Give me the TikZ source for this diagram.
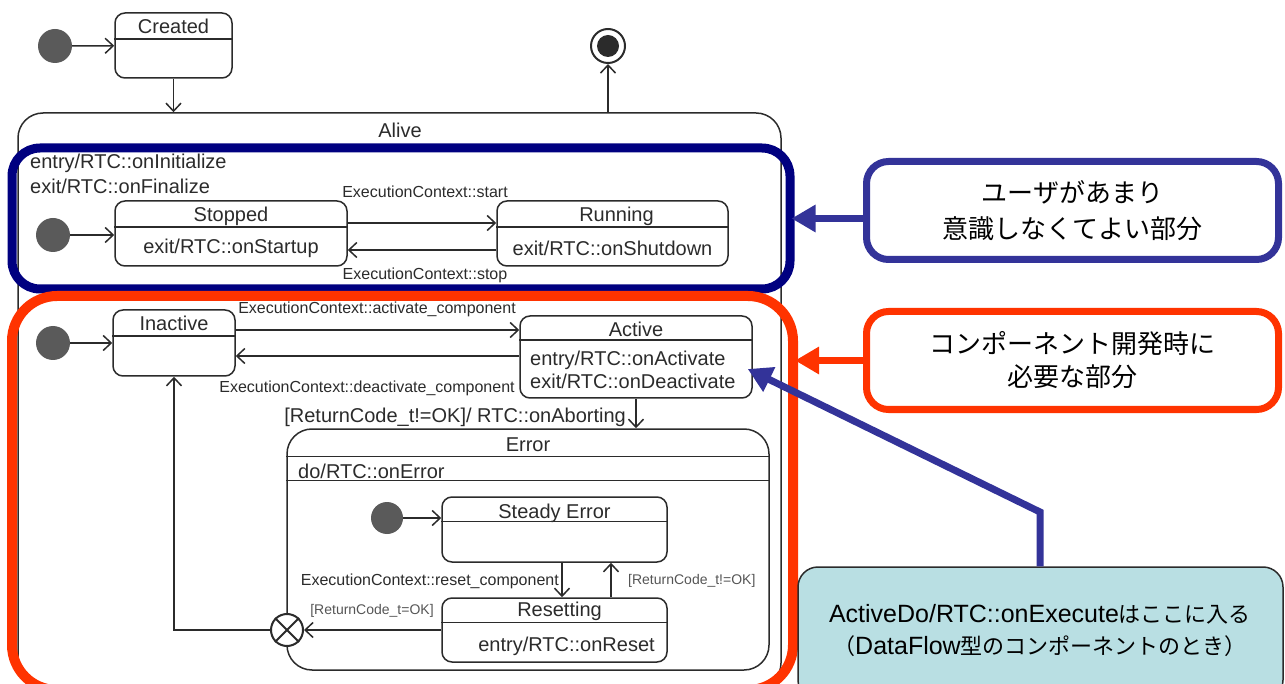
\documentclass[tikz,border=0pt]{standalone}
\usepackage{fontspec}
\setmainfont{Liberation Sans}
\newfontfamily\jp{Noto Sans CJK JP}
\usetikzlibrary{arrows.meta}

\definecolor{ink}{HTML}{2B2B2B}
\definecolor{initgray}{HTML}{5A5A5A}
\definecolor{hlnavy}{HTML}{000080}
\definecolor{hlred}{HTML}{FF3300}
\definecolor{callblue}{HTML}{333399}
\definecolor{callteal}{HTML}{B9DFE3}

\tikzset{
  umlstate/.style={draw=ink, line width=1.5pt, rounded corners=10pt, inner sep=0pt},
  initdot/.style={circle, fill=initgray, minimum size=34pt, inner sep=0pt},
  tr/.style={draw=ink, line width=1.5pt, -{Straight Barb[length=8pt,width=15pt]}},
  txt/.style={text=ink, font=\fontsize{20}{24}\selectfont, inner sep=0pt},
  lbl/.style={text=ink, font=\fontsize{16}{19}\selectfont, inner sep=0pt},
  glbl/.style={text=ink!80, font=\fontsize{14}{17}\selectfont, inner sep=0pt},
  callout/.style={draw, line width=7pt, rounded corners=22pt, fill=white, inner sep=0pt,
    minimum width=412pt, minimum height=98pt, align=center},
  calltip/.style={line width=7pt, -{Triangle[length=24pt,width=26pt]}},
}

\begin{document}
\begin{tikzpicture}[x=1pt, y=-1pt]

\newcommand\hdr[2]{\draw[draw=ink, line width=1.5pt]
  ([yshift=-#2pt]#1.north west) -- ([yshift=-#2pt]#1.north east);}

  \useasboundingbox (0,0) rectangle (1285,684);

  %% top level
  \node[initdot] (init0) at (55,46) {};
  \node[umlstate, minimum width=117pt, minimum height=65pt] (created) at (173.5,45.5) {};
  \hdr{created}{27}
  \node[txt] (createdT) at ([yshift=-14.5pt]created.north) {Created};
  \node[circle, draw=ink, line width=2pt, minimum size=34pt, inner sep=0pt] (final) at (608,46) {};
  \node[circle, fill=ink, minimum size=22pt, inner sep=0pt] (finalDot) at (final) {};
  \draw[tr] (init0) -- (created);

  %% Alive
  \node[umlstate, rounded corners=25pt, minimum width=763pt, minimum height=575pt] (alive) at (399.5,400.5) {};
  \node[txt] (aliveT) at (400,130) {Alive};
  \draw[tr] (created) -- (created |- alive.north);
  \draw[tr] (alive.north -| final) -- (final);

  %% highlighted parts
  \node[draw=hlnavy, line width=9pt, rounded corners=28pt, minimum width=778pt,
    minimum height=141pt, inner sep=0pt] (userpart) at (401,218.5) {};
  \node[draw=hlred, line width=10pt, rounded corners=45pt, minimum width=781pt,
    minimum height=394pt, inner sep=0pt] (devpart) at (402.5,493) {};

  \node[txt, anchor=west] (aliveIn) at (30,163) {entry/RTC::onInitialize};
  \node[txt, anchor=west] (aliveOut) at (30,186) {exit/RTC::onFinalize};

  %% Stopped / Running
  \node[initdot] (init1) at (53,235) {};
  \node[umlstate, minimum width=232pt, minimum height=65pt] (stopped) at (231,233.5) {};
  \hdr{stopped}{27}
  \node[txt] (stoppedT) at ([yshift=-16pt]stopped.north) {Stopped};
  \node[txt] (stoppedD) at ([yshift=-48pt]stopped.north) {exit/RTC::onStartup};
  \node[umlstate, minimum width=231pt, minimum height=65pt] (running) at (612.5,233.5) {};
  \hdr{running}{27}
  \node[txt] (runningT) at ([xshift=4pt, yshift=-16pt]running.north) {Running};
  \node[txt] (runningD) at ([yshift=-48pt]running.north) {exit/RTC::onShutdown};
  \draw[tr] (init1) -- (stopped.west |- init1);
  \draw[tr] ([yshift=10.5pt]stopped.east) -- ([yshift=10.5pt]running.west);
  \draw[tr] ([yshift=-16.5pt]running.west) -- ([yshift=-16.5pt]stopped.east);
  \node[lbl] (startL) at (425,192) {ExecutionContext::start};
  \node[lbl] (stopL) at (425,275) {ExecutionContext::stop};

  %% Inactive / Active
  \node[initdot] (init2) at (53,343) {};
  \node[umlstate, minimum width=122pt, minimum height=66pt] (inactive) at (174,343) {};
  \hdr{inactive}{27}
  \node[txt] (inactiveT) at ([yshift=-14.5pt]inactive.north) {Inactive};
  \node[umlstate, minimum width=232pt, minimum height=82pt] (active) at (636,357) {};
  \hdr{active}{25}
  \node[txt] (activeT) at ([yshift=-14pt]active.north) {Active};
  \node[txt, anchor=west] (activeIn) at (530,360) {entry/RTC::onActivate};
  \node[txt, anchor=west] (activeOut) at (530,381) {exit/RTC::onDeactivate};
  \draw[tr] (init2) -- (inactive);
  \draw[tr] ([yshift=13pt]inactive.east) -- ([yshift=13pt]inactive.east -| active.west);
  \draw[tr] ([yshift=-13pt]inactive.east -| active.west) -- ([yshift=-13pt]inactive.east);
  \node[lbl] (activateL) at (377,309) {ExecutionContext::activate\_component};
  \node[lbl] (deactivateL) at (367,388) {ExecutionContext::deactivate\_component};

  %% Error
  \node[umlstate, rounded corners=25pt, minimum width=482pt, minimum height=241pt] (error) at (528,549.5) {};
  \hdr{error}{28}
  \hdr{error}{52}
  \node[txt] (errorT) at ([yshift=-16pt]error.north) {Error};
  \node[txt, anchor=west] (errorDo) at (298,471) {do/RTC::onError};
  \draw[tr] (active.south) -- (active.south |- error.north);
  \node[txt, anchor=east] (abortL) at (626,417) {[ReturnCode\_t!=OK]/ RTC::onAborting};

  \node[initdot, minimum size=32pt] (init3) at (387,518) {};
  \node[umlstate, minimum width=225pt, minimum height=65pt] (steady) at (554.5,529.5) {};
  \hdr{steady}{25}
  \node[txt] (steadyT) at ([yshift=-17pt]steady.north) {Steady Error};
  \node[umlstate, minimum width=225pt, minimum height=64pt] (resetting) at (554.5,630) {};
  \hdr{resetting}{25}
  \node[txt] (resettingT) at ([xshift=5pt, yshift=-14pt]resetting.north) {Resetting};
  \node[txt] (resettingD) at ([xshift=12pt, yshift=-49pt]resetting.north) {entry/RTC::onReset};
  \draw[tr] (init3) -- (init3 -| steady.west);
  \draw[tr] ([xshift=7.5pt]steady.south) -- ([xshift=7.5pt]resetting.north);
  \draw[tr] ([xshift=56.5pt]resetting.north) -- ([xshift=56.5pt]steady.south);
  \node[lbl, anchor=east] (resetL) at (559,581) {ExecutionContext::reset\_component};
  \node[glbl, anchor=west] (retryL) at (628,581) {[ReturnCode\_t!=OK]};

  %% junction back to Inactive
  \node[circle, draw=ink, line width=2pt, fill=white, minimum size=32pt, inner sep=0pt] (junc) at (287,630) {};
  \draw[ink, line width=2pt] (junc.north west) -- (junc.south east)
    (junc.north east) -- (junc.south west);
  \draw[tr] (resetting) -- (junc);
  \draw[tr] (junc.west) -- (junc.west -| inactive) -- (inactive.south);
  \node[glbl] (okL) at (372,611) {[ReturnCode\_t=OK]};

  %% callouts
  \node[callout, draw=callblue, font=\jp\fontsize{26}{36}\selectfont] (bluecall) at (1072.5,210.5)
    {ユーザがあまり\\意識しなくてよい部分};
  \coordinate (blueTip) at ([xshift=-3pt]userpart.east);
  \draw[calltip, callblue] (bluecall.west |- blueTip) -- (blueTip);

  \node[callout, draw=hlred, font=\jp\fontsize{26}{33}\selectfont] (redcall) at (1072.5,360.5)
    {コンポーネント開発時に\\必要な部分};
  \coordinate (redEdge) at (redcall.west -| devpart.east);
  \draw[calltip, hlred] (redcall.west) -- ([xshift=-3pt]redEdge);

  \node[draw=ink, line width=1.5pt, fill=callteal, rounded corners=20pt, minimum width=485pt,
    minimum height=133pt, inner sep=0pt] (tealcall) at (1040.5,633.5) {};
  \node[align=center, text=black, font=\fontsize{25}{32}\selectfont] (tealT) at (1040,630)
    {ActiveDo/RTC::onExecute{\jp\fontsize{22}{32}\selectfont はここに入る}\\
     {\jp\fontsize{22}{32}\selectfont （}DataFlow{\jp\fontsize{22}{32}\selectfont 型のコンポーネントのとき）}};
  \coordinate (bend) at (1040,512);
  \coordinate (activeTip) at ([xshift=-5pt, yshift=-12pt]active.east);
  \draw[calltip, callblue] (tealcall.north -| bend) -- (bend) -- (activeTip);

\end{tikzpicture}
\end{document}
